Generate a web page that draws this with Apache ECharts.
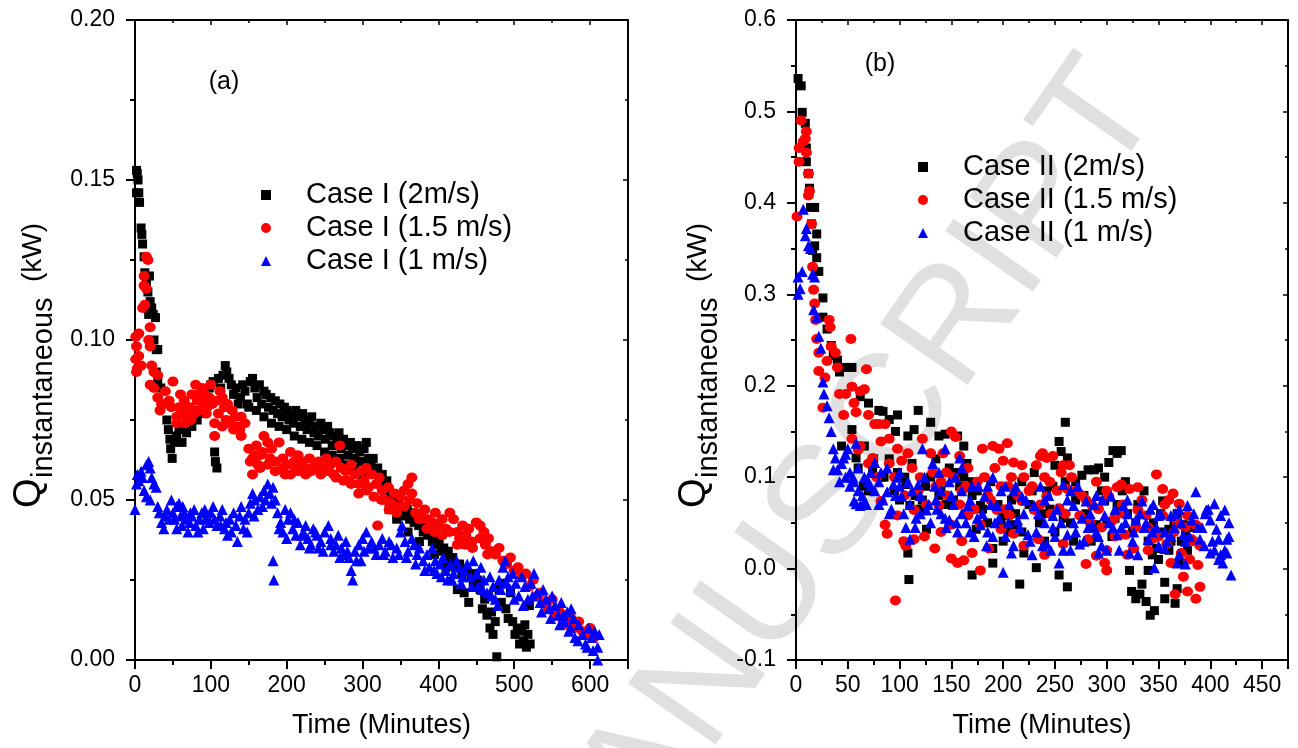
<!DOCTYPE html>
<html><head><meta charset="utf-8">
<script src="https://cdn.jsdelivr.net/npm/echarts@6/dist/echarts.min.js"></script>
<style>html,body{margin:0;padding:0;background:#fff}#c{width:1298px;height:748px}</style>
</head><body><div id="c"></div>
<script>
// ---------- DATA ----------
const namesA = ['Case I (2m/s)', 'Case I (1.5 m/s)', 'Case I (1 m/s)'];
const namesB = ['Case II (2m/s)', 'Case II (1.5 m/s)', 'Case II (1 m/s)'];
const xTicksA = [0, 100, 200, 300, 400, 500, 600];
const xTicksB = [0, 50, 100, 150, 200, 250, 300, 350, 400, 450];
const yTicksA = [0.00, 0.05, 0.10, 0.15, 0.20];
const yTicksB = [-0.1, 0.0, 0.1, 0.2, 0.3, 0.4, 0.5, 0.6];

const caseI_2 = [[2,0.153],[3,0.152],[4,0.150],[2,0.146],[5,0.146],[6,0.143],[8,0.135],[9,0.133],[10,0.130],[12,0.126],[13,0.121],[15,0.118],[17,0.115],[19,0.120],[20,0.112],[18,0.108],[22,0.110],[24,0.108],[25,0.100],[27,0.107],[28,0.097],[30,0.097],[28,0.090],[30,0.087],[34,0.085],[38,0.080],[42,0.075],[44,0.072],[46,0.069],[47,0.066],[49,0.063],[52,0.068],[55,0.070],[58,0.072],[62,0.068],[65,0.072],[68,0.071],[72,0.074],[75,0.073],[78,0.076],[82,0.075],[85,0.078],[88,0.077],[92,0.080],[95,0.082],[98,0.085],[100,0.086],[103,0.087],[105,0.065],[106,0.062],[108,0.060],[110,0.088],[113,0.085],[116,0.089],[119,0.092],[121,0.090],[124,0.088],[127,0.086],[130,0.083],[133,0.085],[136,0.080],[139,0.082],[142,0.086],[145,0.084],[148,0.080],[152,0.087],[155,0.088],[158,0.085],[161,0.082],[164,0.086],[167,0.080],[170,0.084],[173,0.083],[176,0.079],[179,0.082],[182,0.078],[185,0.081],[188,0.077],[191,0.080],[194,0.076],[197,0.079],[200,0.078],[203,0.075],[206,0.077],[209,0.074],[212,0.078],[215,0.076],[218,0.073],[221,0.077],[224,0.075],[227,0.072],[230,0.074],[233,0.076],[236,0.071],[239,0.073],[242,0.070],[245,0.074],[248,0.072],[251,0.069],[254,0.073],[257,0.071],[260,0.067],[263,0.070],[266,0.068],[269,0.071],[272,0.066],[275,0.069],[278,0.067],[281,0.064],[284,0.068],[287,0.066],[290,0.063],[293,0.067],[296,0.065],[299,0.062],[302,0.066],[305,0.068],[308,0.063],[311,0.061],[314,0.063],[317,0.059],[320,0.060],[323,0.057],[326,0.058],[329,0.055],[332,0.056],[335,0.053],[338,0.051],[341,0.052],[344,0.049],[347,0.050],[350,0.047],[353,0.048],[356,0.045],[359,0.047],[362,0.044],[365,0.046],[368,0.043],[371,0.045],[374,0.042],[377,0.043],[380,0.040],[383,0.042],[386,0.039],[389,0.040],[392,0.037],[395,0.039],[398,0.036],[401,0.037],[404,0.034],[407,0.035],[410,0.033],[413,0.034],[416,0.031],[419,0.032],[422,0.029],[425,0.022],[428,0.030],[431,0.027],[434,0.021],[437,0.028],[440,0.018],[443,0.026],[446,0.024],[449,0.027],[452,0.025],[455,0.022],[458,0.016],[461,0.019],[464,0.014],[466,0.020],[468,0.010],[470,0.015],[472,0.008],[475,0.012],[477,0.001],[480,0.022],[483,0.018],[486,0.024],[489,0.016],[492,0.013],[495,0.021],[498,0.012],[501,0.008],[504,0.010],[507,0.005],[510,0.009],[512,0.006],[514,0.011],[516,0.004],[518,0.008],[520,0.017],[521,0.005],[150,0.079],[160,0.078],[170,0.076],[180,0.074],[190,0.073],[200,0.072],[210,0.070],[220,0.069],[230,0.068],[240,0.067],[250,0.065],[260,0.064],[270,0.063],[280,0.061],[290,0.060],[300,0.058],[335,0.047],[345,0.044],[360,0.040],[375,0.037],[395,0.033],[410,0.029]];

const caseI_15 = [[1,0.101],[2,0.098],[1,0.094],[3,0.091],[2,0.090],[5,0.102],[5,0.095],[8,0.092],[10,0.110],[12,0.117],[12,0.120],[15,0.126],[17,0.125],[15,0.116],[13,0.111],[20,0.104],[18,0.100],[20,0.098],[22,0.092],[25,0.090],[20,0.086],[25,0.085],[30,0.089],[30,0.082],[35,0.080],[33,0.078],[40,0.084],[45,0.081],[50,0.087],[48,0.079],[55,0.076],[55,0.074],[60,0.083],[62,0.078],[65,0.081],[68,0.076],[72,0.079],[75,0.083],[78,0.077],[80,0.086],[82,0.081],[85,0.078],[88,0.085],[90,0.080],[92,0.083],[95,0.079],[98,0.082],[100,0.086],[102,0.080],[105,0.074],[105,0.070],[110,0.077],[112,0.084],[115,0.082],[115,0.073],[120,0.075],[122,0.080],[125,0.074],[130,0.072],[128,0.078],[135,0.073],[140,0.076],[140,0.070],[145,0.074],[150,0.066],[152,0.062],[155,0.058],[158,0.064],[160,0.067],[162,0.061],[165,0.060],[168,0.065],[170,0.070],[175,0.068],[178,0.063],[180,0.066],[185,0.062],[190,0.068],[195,0.063],[198,0.058],[200,0.061],[205,0.065],[210,0.062],[212,0.060],[215,0.064],[220,0.062],[225,0.060],[230,0.063],[232,0.059],[238,0.061],[242,0.062],[248,0.060],[252,0.063],[258,0.061],[262,0.058],[265,0.062],[270,0.067],[272,0.060],[278,0.059],[282,0.056],[285,0.061],[290,0.058],[295,0.055],[298,0.059],[302,0.056],[305,0.060],[308,0.054],[312,0.058],[318,0.055],[320,0.042],[322,0.057],[326,0.053],[330,0.050],[334,0.054],[338,0.049],[342,0.052],[346,0.048],[350,0.051],[355,0.053],[360,0.055],[365,0.057],[362,0.050],[370,0.046],[372,0.049],[378,0.045],[382,0.047],[386,0.044],[392,0.043],[396,0.046],[400,0.042],[405,0.044],[410,0.041],[415,0.046],[420,0.044],[425,0.040],[428,0.038],[432,0.042],[436,0.039],[440,0.041],[444,0.037],[450,0.043],[455,0.042],[460,0.040],[462,0.036],[466,0.038],[470,0.034],[475,0.033],[480,0.035],[485,0.031],[490,0.030],[495,0.032],[500,0.028],[505,0.029],[510,0.026],[515,0.027],[520,0.023],[525,0.025],[530,0.020],[535,0.021],[540,0.018],[545,0.016],[550,0.019],[555,0.014],[560,0.015],[565,0.012],[570,0.011],[575,0.013],[580,0.010],[585,0.012],[590,0.009],[595,0.008],[600,0.010],[605,0.007],[155,0.063],[165,0.064],[175,0.061],[185,0.059],[195,0.060],[205,0.058],[215,0.059],[225,0.058],[235,0.060],[245,0.058],[255,0.059],[265,0.057],[275,0.056],[285,0.055],[295,0.052],[305,0.053],[315,0.051],[325,0.050],[335,0.047],[345,0.046],[355,0.048],[365,0.052],[375,0.044],[385,0.041],[395,0.040],[405,0.039],[415,0.040],[425,0.036],[435,0.036],[445,0.035],[455,0.038],[465,0.033],[58,0.079],[66,0.074],[74,0.075],[84,0.083],[94,0.077],[108,0.081],[118,0.079],[132,0.076],[138,0.072]];

const caseI_1 = [[0,0.047],[2,0.055],[3,0.058],[5,0.056],[8,0.059],[10,0.057],[12,0.053],[15,0.061],[18,0.062],[20,0.060],[22,0.057],[25,0.055],[15,0.051],[20,0.050],[28,0.054],[30,0.048],[32,0.046],[35,0.043],[38,0.041],[40,0.045],[42,0.047],[48,0.050],[50,0.046],[52,0.044],[55,0.048],[58,0.049],[60,0.045],[62,0.042],[65,0.046],[68,0.044],[70,0.040],[72,0.043],[75,0.045],[78,0.047],[80,0.042],[85,0.044],[88,0.046],[90,0.041],[92,0.047],[95,0.045],[98,0.043],[100,0.046],[105,0.044],[108,0.042],[112,0.045],[115,0.047],[118,0.041],[120,0.043],[122,0.039],[125,0.044],[130,0.046],[133,0.042],[135,0.037],[138,0.045],[140,0.048],[145,0.044],[148,0.040],[150,0.046],[152,0.049],[155,0.052],[158,0.050],[162,0.047],[165,0.051],[170,0.053],[175,0.055],[178,0.052],[180,0.049],[182,0.054],[185,0.050],[182,0.031],[183,0.025],[188,0.046],[192,0.043],[195,0.040],[198,0.047],[202,0.044],[205,0.046],[208,0.041],[212,0.039],[215,0.043],[218,0.036],[222,0.040],[225,0.042],[228,0.038],[232,0.036],[235,0.041],[240,0.039],[242,0.035],[245,0.037],[250,0.040],[255,0.042],[258,0.038],[262,0.034],[265,0.036],[268,0.039],[272,0.035],[275,0.033],[278,0.037],[282,0.032],[285,0.028],[287,0.025],[290,0.034],[295,0.036],[298,0.031],[300,0.038],[305,0.040],[308,0.035],[312,0.037],[318,0.033],[322,0.036],[326,0.038],[330,0.034],[335,0.037],[340,0.032],[345,0.035],[350,0.040],[352,0.042],[356,0.037],[360,0.034],[365,0.038],[368,0.036],[372,0.033],[375,0.035],[380,0.031],[385,0.033],[388,0.029],[392,0.035],[396,0.031],[398,0.027],[402,0.030],[406,0.032],[410,0.028],[412,0.025],[416,0.030],[420,0.027],[424,0.031],[428,0.029],[430,0.024],[434,0.028],[438,0.030],[442,0.026],[446,0.031],[450,0.027],[452,0.023],[456,0.029],[460,0.025],[464,0.021],[468,0.026],[472,0.023],[475,0.019],[478,0.017],[480,0.025],[485,0.029],[488,0.031],[492,0.026],[495,0.022],[498,0.027],[502,0.024],[506,0.020],[510,0.026],[514,0.023],[518,0.019],[522,0.024],[526,0.027],[530,0.021],[534,0.018],[538,0.022],[542,0.019],[546,0.016],[550,0.020],[554,0.017],[558,0.014],[562,0.018],[566,0.012],[570,0.015],[574,0.010],[578,0.013],[580,0.007],[585,0.011],[590,0.008],[594,0.005],[598,0.010],[602,0.007],[606,0.009],[610,0.004],[612,0.008],[610,0.000],[575,0.016],[565,0.014],[45,0.044],[55,0.041],[63,0.048],[73,0.046],[83,0.040],[93,0.044],[103,0.048],[113,0.042],[127,0.040],[143,0.041],[157,0.045],[168,0.048],[172,0.050],[190,0.041],[200,0.038],[210,0.044],[220,0.039],[230,0.035],[238,0.040],[248,0.034],[258,0.036],[270,0.032],[280,0.034],[292,0.031],[302,0.034],[315,0.035],[328,0.033],[338,0.036],[348,0.033],[358,0.032],[370,0.030],[382,0.028],[394,0.028],[404,0.026],[418,0.025],[432,0.026],[444,0.023],[458,0.022],[470,0.020],[482,0.022],[490,0.024],[500,0.019],[512,0.017],[524,0.020],[536,0.015],[548,0.013],[560,0.011],[572,0.009],[584,0.006],[596,0.004],[604,0.003]];

const caseII_2 = [[2,0.536],[5,0.528],[6,0.499],[9,0.487],[10,0.460],[10,0.445],[12,0.432],[13,0.416],[14,0.395],[18,0.395],[15,0.377],[20,0.366],[18,0.353],[16,0.348],[20,0.340],[22,0.325],[26,0.296],[26,0.275],[30,0.262],[34,0.244],[36,0.233],[40,0.228],[42,0.215],[48,0.220],[54,0.220],[62,0.188],[70,0.181],[80,0.173],[84,0.172],[90,0.163],[98,0.168],[96,0.150],[108,0.145],[118,0.173],[114,0.152],[130,0.160],[138,0.145],[144,0.147],[156,0.145],[162,0.134],[54,0.152],[44,0.134],[66,0.134],[58,0.121],[74,0.105],[82,0.100],[98,0.105],[106,0.092],[110,0.069],[126,0.043],[108,0.017],[109,-0.012],[122,0.075],[138,0.080],[162,0.100],[170,0.095],[178,0.069],[174,0.043],[170,-0.007],[190,0.022],[190,0.006],[200,0.058],[210,0.048],[218,0.095],[216,-0.017],[220,0.017],[230,0.105],[232,0.001],[242,0.085],[250,0.113],[254,0.139],[256,0.128],[260,0.160],[262,0.121],[260,0.095],[254,-0.007],[262,-0.020],[270,0.095],[276,0.102],[282,0.108],[288,0.108],[292,0.110],[276,0.058],[302,0.116],[306,0.129],[310,0.126],[314,0.129],[318,0.095],[298,0.074],[290,0.048],[322,-0.002],[324,-0.025],[328,-0.033],[334,-0.017],[332,-0.028],[338,-0.036],[342,-0.051],[346,-0.046],[340,-0.002],[348,0.022],[354,0.074],[356,-0.015],[356,-0.033],[366,-0.038],[368,-0.022],[370,0.006],[374,0.048],[360,0.043],[60,0.110],[65,0.090],[75,0.120],[85,0.100],[95,0.085],[105,0.100],[115,0.080],[120,0.065],[130,0.100],[140,0.085],[148,0.110],[152,0.075],[158,0.090],[165,0.060],[170,0.080],[180,0.065],[185,0.050],[195,0.070],[200,0.030],[205,0.040],[212,0.060],[225,0.070],[235,0.050],[240,0.030],[245,0.065],[250,0.040],[265,0.050],[270,0.075],[280,0.060],[285,0.030],[295,0.085],[300,0.050],[305,0.035],[310,0.070],[320,0.060],[325,0.040],[330,0.070],[340,0.030],[345,0.050],[350,0.010],[355,0.040],[360,0.020],[365,0.050],[372,0.030],[378,0.020],[382,0.045],[70,0.085],[90,0.120],[100,0.075],[112,0.115],[125,0.090],[135,0.120],[145,0.070],[155,0.105],[165,0.115],[175,0.085],[188,0.095],[198,0.050],[208,0.075],[218,0.040],[228,0.085],[238,0.060],[248,0.090],[258,0.055],[268,0.030],[278,0.080],[288,0.045],[298,0.100],[308,0.055],[315,0.085],[328,0.050],[336,0.085],[344,0.015],[352,0.060],[362,0.030],[368,0.060],[376,0.040]];

const caseII_15 = [[1,0.385],[3,0.445],[3,0.460],[5,0.490],[7,0.467],[9,0.470],[10,0.455],[10,0.478],[12,0.432],[12,0.408],[13,0.413],[15,0.377],[16,0.330],[17,0.305],[18,0.290],[19,0.272],[20,0.251],[22,0.236],[22,0.216],[26,0.176],[28,0.209],[30,0.227],[32,0.272],[33,0.264],[34,0.243],[38,0.236],[40,0.220],[42,0.191],[46,0.168],[48,0.191],[53,0.251],[54,0.199],[56,0.181],[58,0.171],[62,0.194],[66,0.196],[68,0.218],[70,0.168],[76,0.158],[80,0.158],[82,0.139],[86,0.158],[54,0.142],[62,0.134],[74,0.121],[90,0.142],[98,0.131],[102,0.118],[108,0.126],[122,0.142],[130,0.126],[142,0.126],[150,0.150],[154,0.144],[158,0.123],[166,0.110],[180,0.131],[190,0.134],[196,0.131],[204,0.137],[200,0.118],[210,0.116],[218,0.113],[232,0.113],[236,0.123],[238,0.126],[242,0.121],[248,0.123],[256,0.105],[258,0.113],[264,0.113],[290,0.095],[302,0.079],[310,0.089],[314,0.092],[322,0.087],[330,0.089],[348,0.103],[354,0.087],[364,0.082],[370,0.071],[378,0.058],[386,0.048],[388,0.004],[390,-0.020],[386,-0.033],[378,-0.025],[366,-0.028],[374,-0.009],[96,-0.035],[86,0.048],[88,0.038],[104,0.030],[106,0.025],[114,0.032],[124,0.035],[134,0.022],[150,0.011],[156,0.006],[162,0.009],[178,-0.002],[170,0.017],[186,0.022],[198,0.043],[206,0.058],[218,0.074],[230,0.064],[242,0.079],[254,0.066],[262,0.087],[274,0.058],[282,0.032],[290,0.014],[298,0.006],[300,-0.002],[318,0.037],[326,0.022],[338,0.058],[344,0.032],[358,0.027],[362,0.006],[372,0.017],[382,0.032],[82,0.074],[98,0.058],[114,0.064],[138,0.069],[150,0.048],[166,0.058],[178,0.048],[194,0.064],[210,0.038],[234,0.032],[258,0.027],[286,0.069],[306,0.053],[330,0.064],[354,0.058],[120,0.100],[135,0.090],[145,0.105],[160,0.085],[175,0.095],[185,0.080],[205,0.090],[225,0.085],[245,0.095],[270,0.085],[280,0.075],[295,0.045],[315,0.070],[340,0.045],[365,0.040],[380,0.010],[60,0.130],[70,0.115],[78,0.100],[90,0.115],[95,0.100],[105,0.080],[112,0.110],[118,0.085],[126,0.070],[132,0.105],[140,0.095],[146,0.080],[152,0.100],[158,0.070],[164,0.090],[172,0.065],[182,0.100],[188,0.075],[192,0.110],[198,0.090],[202,0.065],[208,0.100],[214,0.080],[220,0.100],[228,0.090],[236,0.070],[240,0.100],[246,0.060],[252,0.085],[260,0.060],[266,0.100],[276,0.080],[284,0.050],[292,0.065],[300,0.085],[308,0.035],[312,0.060],[320,0.015],[328,0.045],[334,0.075],[340,0.020],[350,0.035],[356,0.070],[360,0.075],[368,0.050],[376,0.045],[384,0.030],[390,0.025],[300,0.020],[280,0.005],[240,0.015],[220,0.025],[160,0.030],[140,0.040]];

const caseII_1 = [[2,0.300],[4,0.306],[2,0.319],[6,0.325],[7,0.393],[9,0.364],[10,0.372],[12,0.353],[14,0.350],[16,0.322],[18,0.319],[17,0.283],[20,0.275],[22,0.254],[24,0.241],[26,0.204],[27,0.191],[30,0.178],[32,0.165],[34,0.150],[36,0.131],[38,0.121],[36,0.108],[40,0.108],[42,0.095],[46,0.121],[48,0.100],[52,0.090],[56,0.074],[58,0.071],[62,0.069],[66,0.074],[50,0.131],[58,0.137],[66,0.100],[72,0.090],[76,0.116],[82,0.105],[88,0.084],[94,0.092],[98,0.100],[102,0.079],[106,0.045],[110,0.032],[118,0.092],[122,0.131],[126,0.064],[134,0.090],[138,0.105],[144,0.131],[148,0.053],[154,0.100],[158,0.121],[166,0.069],[170,0.090],[178,0.048],[182,0.079],[190,0.100],[194,0.069],[200,-0.004],[202,0.090],[208,0.017],[214,0.053],[218,0.079],[224,0.037],[230,0.069],[236,0.090],[242,0.027],[248,0.058],[254,0.006],[258,0.092],[262,0.037],[268,0.069],[274,0.027],[280,0.074],[286,0.048],[292,0.017],[298,0.058],[304,0.079],[310,0.037],[316,0.069],[322,0.017],[328,0.053],[334,0.074],[340,0.032],[346,0.001],[350,0.058],[356,0.022],[362,0.058],[368,0.006],[374,0.037],[378,0.069],[382,0.053],[386,0.084],[390,0.032],[396,0.064],[400,0.017],[404,0.071],[408,0.032],[410,0.058],[412,0.006],[414,0.064],[416,0.032],[418,0.035],[420,-0.007],[416,0.017],[406,0.043],[400,0.053],[55,0.100],[60,0.085],[70,0.095],[80,0.070],[90,0.060],[100,0.090],[110,0.070],[115,0.045],[120,0.060],[130,0.050],[135,0.075],[140,0.060],[145,0.045],[150,0.080],[155,0.050],[160,0.060],[168,0.040],[175,0.055],[185,0.040],[190,0.035],[196,0.055],[205,0.050],[210,0.025],[220,0.060],[228,0.015],[232,0.040],[240,0.050],[246,0.020],[250,0.035],[256,0.050],[265,0.020],[270,0.040],[278,0.030],[284,0.060],[290,0.040],[295,0.025],[300,0.020],[306,0.045],[312,0.020],[318,0.050],[325,0.030],[330,0.015],[336,0.045],[344,0.040],[350,0.025],[358,0.030],[365,0.045],[370,0.015],[376,0.005],[380,0.035],[388,0.045],[394,0.025],[402,0.030],[408,0.010],[414,0.020],[160,0.110],[185,0.090],[210,0.085],[240,0.075],[265,0.085],[290,0.080],[320,0.075],[345,0.070],[370,0.065],[395,0.060],[44,0.115],[48,0.125],[52,0.105],[56,0.095],[60,0.110],[64,0.080],[68,0.070],[72,0.105],[76,0.085],[80,0.095],[84,0.075],[88,0.110],[92,0.065],[96,0.080],[100,0.105],[104,0.060],[108,0.095],[112,0.085],[116,0.055],[120,0.080],[124,0.100],[128,0.070],[132,0.115],[136,0.065],[140,0.085],[144,0.055],[148,0.095],[152,0.070],[156,0.040],[160,0.085],[164,0.050],[168,0.075],[172,0.035],[176,0.090],[180,0.060],[184,0.025],[188,0.070],[192,0.050],[198,0.085],[202,0.035],[206,0.070],[212,0.090],[216,0.045],[222,0.075],[226,0.030],[234,0.060],[238,0.025],[244,0.080],[248,0.045],[252,0.065],[258,0.020],[262,0.075],[268,0.050],[272,0.090],[276,0.055],[282,0.045],[288,0.070],[292,0.035],[296,0.075],[302,0.050],[308,0.065],[314,0.045],[320,0.060],[326,0.040],[332,0.060],[338,0.050],[342,0.065],[348,0.045],[352,0.060],[356,0.040],[362,0.035],[366,0.060],[372,0.050],[376,0.030],[384,0.060],[392,0.045],[398,0.065],[404,0.020],[410,0.015],[418,0.050]];

// ---------- CHART ----------
const FONT = '"Liberation Sans", Arial, sans-serif';
const BLACK = '#000';
const chart = echarts.init(document.getElementById('c'), null, {renderer: 'canvas'});

function mainX(grid, max, interval, ticks) {
  return {
    gridIndex: grid, type: 'value', min: 0, max: max, interval: interval, position: 'bottom',
    axisLine: {onZero: false, lineStyle: {color: BLACK, width: 2}},
    axisTick: {inside: false, length: 9, lineStyle: {color: BLACK, width: 2}},
    minorTick: {show: true, splitNumber: 2, length: 5, lineStyle: {color: BLACK, width: 2}},
    splitLine: {show: false},
    axisLabel: {color: BLACK, fontSize: 23, fontFamily: FONT, margin: 14, showMaxLabel: false,
      formatter: v => ticks.indexOf(Math.round(v)) >= 0 ? String(Math.round(v)) : ''},
    name: 'Time (Minutes)', nameLocation: 'middle', nameGap: 52,
    nameTextStyle: {color: BLACK, fontSize: 27, fontFamily: FONT}
  };
}
function mirrorX(grid, max, interval) {
  return {
    gridIndex: grid, type: 'value', min: 0, max: max, interval: interval, position: 'top',
    axisLine: {onZero: false, lineStyle: {color: BLACK, width: 2}},
    axisTick: {inside: true, length: 5, lineStyle: {color: BLACK, width: 1.5}},
    minorTick: {show: true, splitNumber: 2, length: 3, lineStyle: {color: BLACK, width: 1.5}},
    splitLine: {show: false}, axisLabel: {show: false}
  };
}
function mainY(grid, min, max, interval, dec) {
  return {
    gridIndex: grid, type: 'value', min: min, max: max, interval: interval, position: 'left',
    axisLine: {onZero: false, lineStyle: {color: BLACK, width: 2}},
    axisTick: {inside: false, length: 9, lineStyle: {color: BLACK, width: 2}},
    minorTick: {show: true, splitNumber: 2, length: 5, lineStyle: {color: BLACK, width: 2}},
    splitLine: {show: false},
    axisLabel: {color: BLACK, fontSize: 23, fontFamily: FONT, margin: 20,
      formatter: v => (Math.round(v * 1000) / 1000).toFixed(dec)}
  };
}
function mirrorY(grid, min, max, interval) {
  return {
    gridIndex: grid, type: 'value', min: min, max: max, interval: interval, position: 'right',
    axisLine: {onZero: false, lineStyle: {color: BLACK, width: 2}},
    axisTick: {inside: true, length: 5, lineStyle: {color: BLACK, width: 1.5}},
    minorTick: {show: true, splitNumber: 2, length: 3, lineStyle: {color: BLACK, width: 1.5}},
    splitLine: {show: false}, axisLabel: {show: false}
  };
}
function sc(name, data, xi, yi, symbol, size, color, z) {
  return {name: name, type: 'scatter', data: data, xAxisIndex: xi, yAxisIndex: yi,
    symbol: symbol, symbolSize: size, itemStyle: {color: color, opacity: 1}, z: z,
    emphasis: {disabled: true}, silent: true};
}
function legendAt(names, left, top) {
  return {
    data: names.map((n, i) => ({name: n, icon: ['rect', 'circle', 'triangle'][i]})),
    orient: 'vertical', left: left, top: top, itemWidth: 10, itemHeight: 10, itemGap: 3,
    selectedMode: false, align: 'left',
    textStyle: {color: BLACK, fontSize: 29, fontFamily: FONT, lineHeight: 30, padding: [0, 0, 0, 30]}
  };
}
function yTitle(x, y) {
  return {
    type: 'group', x: x, y: y, rotation: Math.PI / 2, silent: true,
    children: [
      {type: 'text', x: 0, y: 8, style: {text: 'Q', fontSize: 38, fontFamily: FONT, fill: BLACK, align: 'left', verticalAlign: 'bottom'}},
      {type: 'text', x: 30, y: 17, style: {text: 'instantaneous', fontSize: 29, fontFamily: FONT, fill: BLACK, align: 'left', verticalAlign: 'bottom'}},
      {type: 'text', x: 226, y: 6, style: {text: '(kW)', fontSize: 28, fontFamily: FONT, fill: BLACK, align: 'left', verticalAlign: 'bottom'}}
    ]
  };
}

const option = {
  animation: false,
  backgroundColor: '#fff',
  grid: [
    {left: 135, top: 20, width: 493, height: 640},
    {left: 796, top: 20, width: 492, height: 640}
  ],
  xAxis: [mainX(0, 650, 100, xTicksA), mirrorX(0, 650, 100), mainX(1, 475, 50, xTicksB), mirrorX(1, 475, 50)],
  yAxis: [mainY(0, 0, 0.2, 0.05, 2), mirrorY(0, 0, 0.2, 0.05), mainY(1, -0.1, 0.6, 0.1, 1), mirrorY(1, -0.1, 0.6, 0.1)],
  legend: [legendAt(namesA, 256, 175), legendAt(namesB, 913, 147)],
  graphic: [
    {type: 'text', x: 540, y: 921, rotation: 0.96, z: -10, silent: true,
      style: {text: 'MANUSCRIPT', fontSize: 155, fontFamily: FONT, fill: '#e0e0e0', align: 'left', verticalAlign: 'middle'}},
    yTitle(41, 508),
    yTitle(706, 508),
    {type: 'text', x: 224, y: 82, style: {text: '(a)', fontSize: 25, fontFamily: FONT, fill: BLACK, align: 'center', verticalAlign: 'middle'}},
    {type: 'text', x: 880, y: 64, style: {text: '(b)', fontSize: 25, fontFamily: FONT, fill: BLACK, align: 'center', verticalAlign: 'middle'}}
  ],
  series: [
    sc(namesA[0], caseI_2, 0, 0, 'rect', 9, '#000000', 3),
    sc(namesA[1], caseI_15, 0, 0, 'circle', [11, 10], '#ff0000', 4),
    sc(namesA[2], caseI_1, 0, 0, 'triangle', 11, '#0000ff', 5),
    sc(namesB[0], caseII_2, 2, 2, 'rect', 9, '#000000', 3),
    sc(namesB[1], caseII_15, 2, 2, 'circle', [11, 10], '#ff0000', 4),
    sc(namesB[2], caseII_1, 2, 2, 'triangle', 11, '#0000ff', 5)
  ]
};
chart.setOption(option);
</script>
</body></html>
